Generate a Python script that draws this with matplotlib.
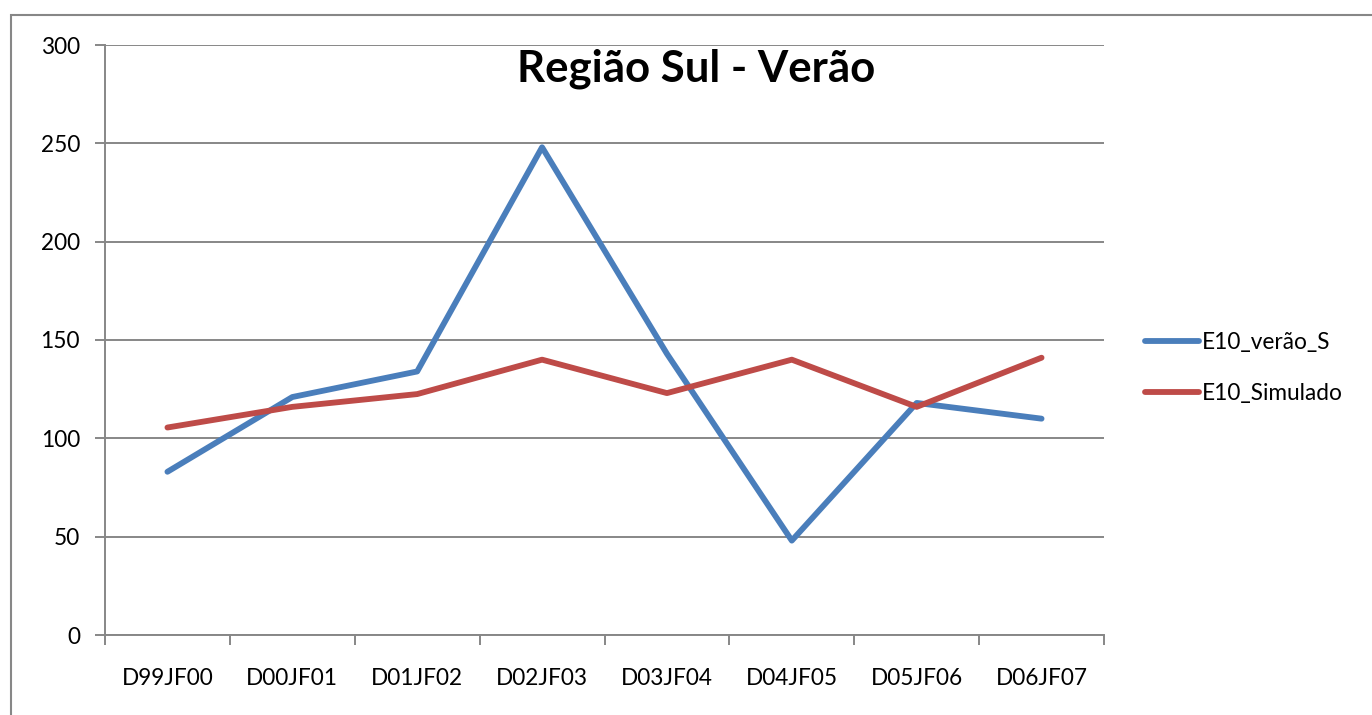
import numpy as np
import matplotlib.pyplot as plt
from matplotlib.patches import Rectangle

categorias = ['D99JF00', 'D00JF01', 'D01JF02', 'D02JF03',
              'D03JF04', 'D04JF05', 'D05JF06', 'D06JF07']
verao_s = [83, 121, 134, 248, 143, 48, 118, 110]
simulado = [105.5, 116, 122.5, 140, 123, 140, 116, 141]
yticks = [0, 50, 100, 150, 200, 250, 300]

plt.rcParams['font.family'] = ['Lato', 'DejaVu Sans']

fig = plt.figure(figsize=(13.72, 7.15), dpi=100)
ax = fig.add_axes([105 / 1372, 1 - 635 / 715, (1104 - 105) / 1372, (635 - 45) / 715])

x = np.arange(len(categorias))
ax.plot(x, verao_s, color='#4A7EBB', lw=4.2, label='E10_verão_S', solid_capstyle='round')
ax.plot(x, simulado, color='#BE4B48', lw=4.2, label='E10_Simulado', solid_capstyle='round')

cinza = '#878787'
ax.set_xlim(-0.5, len(categorias) - 0.5)
ax.set_ylim(0, 300)
ax.set_yticks(yticks)
ax.set_xticks(x)
ax.set_xticklabels(categorias)
ax.set_xticks(np.arange(-0.5, len(categorias)), minor=True)
ax.tick_params(axis='x', which='major', length=0, pad=24, labelsize=16.3)
ax.tick_params(axis='x', which='minor', length=7, width=1.4, color=cinza, direction='out')
ax.tick_params(axis='y', length=7, width=1.4, color=cinza, pad=11, labelsize=16.3)
ax.yaxis.grid(True, color=cinza, lw=1.4)
ax.set_axisbelow(True)
for s in ['top', 'right']:
    ax.spines[s].set_visible(False)
for s in ['left', 'bottom']:
    ax.spines[s].set_color(cinza)
    ax.spines[s].set_linewidth(1.4)

ax.text(0.592, 0.96, 'Região Sul - Verão', transform=ax.transAxes, ha='center', va='center',
        fontsize=31.5, fontweight='bold')

ax.legend(loc='center left', bbox_to_anchor=(1.021, 0.4525), frameon=False, fontsize=16.3,
          handlelength=2.35, handletextpad=0.15, labelspacing=1.35)

# moldura externa do gráfico
fig.patches.append(Rectangle((11 / 1372, -0.1), 1.2, 1 - 15 / 715 + 0.1,
                             transform=fig.transFigure, fill=False, edgecolor=cinza, lw=1.5))

plt.savefig('out.png', dpi=100)
